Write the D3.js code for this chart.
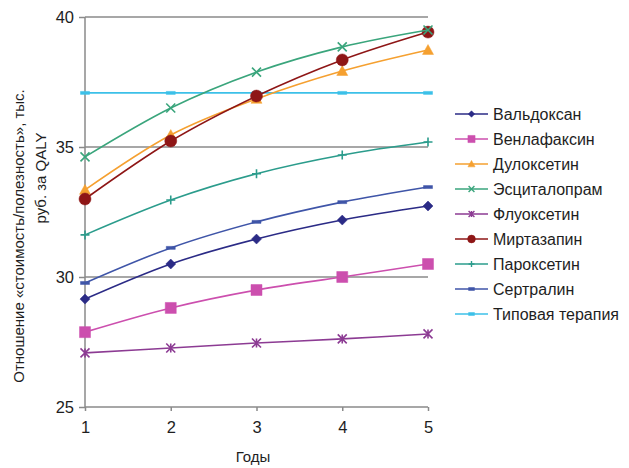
<!DOCTYPE html>
<html>
<head>
<meta charset="utf-8">
<script src="https://cdn.jsdelivr.net/npm/d3@7"></script>
<style>
  body { margin: 0; background: #fff; }
  text { font-family: "Liberation Sans", Arial, sans-serif; fill: #1e1e1e; }
</style>
</head>
<body>
<div class="chart"></div>
<script>
var years = [1, 2, 3, 4, 5];
var yTicks = [25, 30, 35, 40];

var names = ["Вальдоксан", "Венлафаксин", "Дулоксетин", "Эсциталопрам", "Флуоксетин",
             "Миртазапин", "Пароксетин", "Сертралин", "Типовая терапия"];

var valdoxan   = [29.15, 30.5, 31.46, 32.19, 32.73];
var venlafax   = [27.88, 28.81, 29.5, 30.0, 30.5];
var duloxetine = [33.35, 35.46, 36.85, 37.92, 38.73];
var escitalop  = [34.62, 36.5, 37.88, 38.85, 39.5];
var fluoxetine = [27.08, 27.27, 27.46, 27.62, 27.81];
var mirtazap   = [33.0, 35.23, 36.96, 38.35, 39.42];
var paroxetine = [31.62, 32.96, 33.97, 34.69, 35.19];
var sertraline = [29.77, 31.12, 32.12, 32.88, 33.46];
var typical    = [37.08, 37.08, 37.08, 37.08, 37.08];

var colors = ["#2b2b86", "#cc4fae", "#f5a030", "#3aa57c", "#8c3b93",
              "#8e1616", "#2b9c8c", "#3f55a8", "#3cc0e8"];
var markers = ["diamond", "square", "triangle", "x", "star", "circle", "plus", "dash", "dash"];

var seriesValues = [valdoxan, venlafax, duloxetine, escitalop, fluoxetine,
                    mirtazap, paroxetine, sertraline, typical];

var series = names.map(function(n, i) {
    return { name: n, values: seriesValues[i], color: colors[i], marker: markers[i] };
});

var width = 629, height = 468;

var svg = d3.select('.chart')
    .append('svg')
    .attr("width", width)
    .attr("height", height);

var x = d3.scaleLinear().domain([1, 5]).range([85, 428]);
var y = d3.scaleLinear().domain([25, 40]).range([407, 17]);

// grid lines
svg.append("g")
    .selectAll("line")
    .data(yTicks.filter(function(t) { return t > 25; }))
    .enter().append("line")
    .attr("x1", x(1)).attr("x2", x(5))
    .attr("y1", function(d) { return y(d); })
    .attr("y2", function(d) { return y(d); })
    .attr("stroke", "#8a8a8a")
    .attr("stroke-width", 1.5);

var yAxis = d3.axisLeft(y).tickValues(yTicks).tickSize(6).tickPadding(5).tickFormat(d3.format("d"));
var xAxis = d3.axisBottom(x).tickValues(years).tickSize(4).tickPadding(10).tickFormat(d3.format("d"));

var gy = svg.append("g")
    .attr("transform", "translate(" + x(1) + ",0)")
    .call(yAxis);
var gx = svg.append("g")
    .attr("transform", "translate(0," + y(25) + ")")
    .call(xAxis);

[gx, gy].forEach(function(g) {
    g.select(".domain").attr("stroke", "#8a8a8a").attr("stroke-width", 1.5);
    g.selectAll(".tick line").attr("stroke", "#8a8a8a").attr("stroke-width", 1.5);
    g.selectAll(".tick text")
        .attr("font-family", "Liberation Sans, Arial, sans-serif")
        .attr("font-size", 16.5)
        .attr("fill", "#111");
});
gy.select(".domain").attr("d", "M0," + y(25) + "V" + y(40));
gx.select(".domain").attr("d", "M" + x(1) + ",0H" + x(5));

function markerPath(type, s) {
    var h = s / 2;
    switch (type) {
        case "diamond": return "M0," + (-h) + "L" + h + ",0L0," + h + "L" + (-h) + ",0Z";
        case "square": return "M" + (-h) + "," + (-h) + "h" + s + "v" + s + "h" + (-s) + "Z";
        case "triangle": return "M0," + (-h) + "L" + h + "," + (h * 0.8) + "L" + (-h) + "," + (h * 0.8) + "Z";
        case "circle": return d3.symbol(d3.symbolCircle, Math.PI * h * h)();
        case "x": return "M" + (-h) + "," + (-h) + "L" + h + "," + h + "M" + (-h) + "," + h + "L" + h + "," + (-h);
        case "star": return "M" + (-h) + "," + (-h) + "L" + h + "," + h + "M" + (-h) + "," + h + "L" + h + "," + (-h) + "M0," + (-h) + "V" + h;
        case "plus": return "M" + (-h) + ",0H" + h + "M0," + (-h) + "V" + h;
        case "dash": return "M" + (-h) + ",-1.5h" + s + "v3h" + (-s) + "Z";
    }
}
var filled = { diamond: true, square: true, triangle: true, circle: true, dash: true };

var line = d3.line()
    .curve(d3.curveCatmullRom.alpha(0))
    .x(function(d, i) { return x(years[i]); })
    .y(function(d) { return y(d); });

var sizes = { diamond: 10, square: 11, triangle: 11, circle: 12, x: 9, star: 9, plus: 9, dash: 9 };

var drawOrder = [8, 1, 4, 0, 7, 6, 2, 5, 3];
drawOrder.forEach(function(i) {
    var s = series[i];
    var g = svg.append("g");
    g.append("path")
        .datum(s.values)
        .attr("d", line)
        .attr("fill", "none")
        .attr("stroke", s.color)
        .attr("stroke-width", 1.6);
    g.selectAll("path.mk")
        .data(s.values)
        .enter().append("path")
        .attr("class", "mk")
        .attr("transform", function(d, j) { return "translate(" + x(years[j]) + "," + y(d) + ")"; })
        .attr("d", markerPath(s.marker, sizes[s.marker]))
        .attr("fill", filled[s.marker] ? s.color : "none")
        .attr("stroke", s.color)
        .attr("stroke-width", filled[s.marker] ? 0.5 : 1.6);
});

// legend
var legend = svg.append("g");
series.forEach(function(s, i) {
    var ly = 114 + i * 25;
    legend.append("line")
        .attr("x1", 455).attr("x2", 488)
        .attr("y1", ly).attr("y2", ly)
        .attr("stroke", s.color).attr("stroke-width", 1.6);
    legend.append("path")
        .attr("transform", "translate(471.5," + ly + ")")
        .attr("d", markerPath(s.marker, sizes[s.marker] * 0.65))
        .attr("fill", filled[s.marker] ? s.color : "none")
        .attr("stroke", s.color)
        .attr("stroke-width", filled[s.marker] ? 0.5 : 1.4);
    legend.append("text")
        .attr("x", 493).attr("y", ly)
        .attr("dy", "0.35em")
        .attr("font-size", 16)
        .text(s.name);
});

// axis titles
svg.append("text")
    .attr("x", 253).attr("y", 457)
    .attr("dy", "0.35em")
    .attr("text-anchor", "middle")
    .attr("font-size", 15)
    .text("Годы");

svg.append("text")
    .attr("transform", "translate(19,236) rotate(-90)")
    .attr("dy", "0.35em")
    .attr("text-anchor", "middle")
    .attr("font-size", 15)
    .text("Отношение  «стоимость/полезность», тыс.");
svg.append("text")
    .attr("transform", "translate(41,178) rotate(-90)")
    .attr("dy", "0.35em")
    .attr("text-anchor", "middle")
    .attr("font-size", 15)
    .text("руб. за QALY");
</script>
</body>
</html>
